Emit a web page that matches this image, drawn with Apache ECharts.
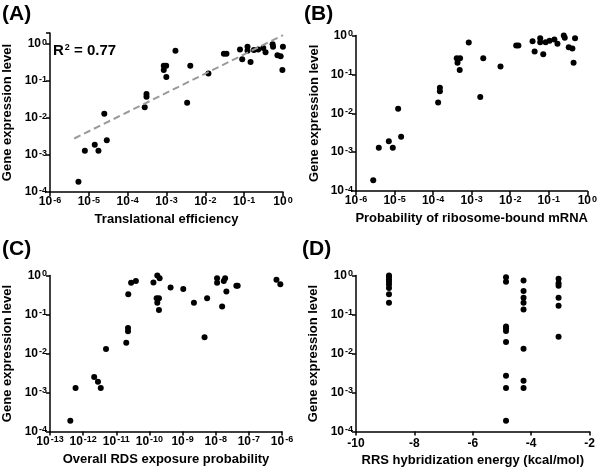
<!DOCTYPE html>
<html><head><meta charset="utf-8">
<script src="https://cdn.jsdelivr.net/npm/echarts@6/dist/echarts.min.js"></script>
<style>html,body{margin:0;padding:0;background:#fff}#c{width:600px;height:469px}</style>
</head><body><div id="c"></div>
<script>
// ---- Panel A: translational efficiency ----
const teX = [5.4e-6, 7.9e-6, 1.42e-5, 1.77e-5, 2.5e-5, 2.9e-5, 2.75e-4, 3.05e-4, 3.05e-4, 8.5e-4, 8.5e-4, 9.8e-4, 9.9e-4, 1.7e-3, 3.4e-3, 4.1e-3, 0.012, 0.030, 0.035, 0.078, 0.089, 0.122, 0.122, 0.146, 0.178, 0.23, 0.31, 0.355, 0.54, 0.555, 0.72, 0.87, 0.965, 0.995];
const teY = [1.9e-4, 1.3e-3, 1.9e-3, 1.3e-3, 0.013, 2.5e-3, 0.0195, 0.045, 0.038, 0.26, 0.2, 0.26, 0.13, 0.66, 0.026, 0.26, 0.16, 0.55, 0.55, 0.72, 0.39, 0.85, 0.66, 0.33, 0.69, 0.72, 0.79, 0.6, 1.0, 0.85, 0.5, 0.47, 0.2, 0.85];
const fitX = [4.2e-6, 1];
const fitY = [2.8e-3, 1.75];
const rSquared = '0.77';

// ---- Panel B: probability of ribosome-bound mRNA ----
const rbX = [2.8e-6, 3.9e-6, 7.1e-6, 9.0e-6, 1.24e-5, 1.48e-5, 1.35e-4, 1.5e-4, 1.5e-4, 4.1e-4, 4.3e-4, 5.0e-4, 4.9e-4, 8.4e-4, 1.67e-3, 2.0e-3, 5.6e-3, 0.0143, 0.0163, 0.038, 0.043, 0.06, 0.06, 0.072, 0.083, 0.105, 0.14, 0.168, 0.245, 0.26, 0.33, 0.41, 0.44, 0.48];
const rbY = [1.9e-4, 1.3e-3, 1.9e-3, 1.3e-3, 0.013, 2.5e-3, 0.019, 0.045, 0.037, 0.26, 0.2, 0.26, 0.13, 0.66, 0.026, 0.26, 0.16, 0.55, 0.55, 0.71, 0.39, 0.85, 0.67, 0.33, 0.67, 0.73, 0.79, 0.61, 1.0, 0.88, 0.5, 0.46, 0.2, 0.85];

// ---- Panel C: overall RDS exposure probability ----
const rdsX = [4.1e-13, 5.9e-13, 2.15e-12, 2.8e-12, 3.4e-12, 4.9e-12, 2.0e-11, 2.26e-11, 2.26e-11, 2.3e-11, 2.8e-11, 3.9e-11, 1.32e-10, 1.73e-10, 2.03e-10, 1.65e-10, 1.94e-10, 1.73e-10, 1.94e-10, 4.35e-10, 1.05e-9, 2.2e-9, 4.6e-9, 5.5e-9, 1.1e-8, 1.1e-8, 1.56e-8, 1.75e-8, 1.92e-8, 2.1e-8, 4.2e-8, 4.6e-8, 6.8e-7, 8.9e-7];
const rdsY = [1.9e-4, 1.3e-3, 2.5e-3, 1.9e-3, 1.3e-3, 0.013, 0.019, 0.045, 0.037, 0.33, 0.65, 0.72, 0.66, 1.0, 0.85, 0.26, 0.26, 0.2, 0.13, 0.49, 0.45, 0.2, 0.026, 0.26, 0.85, 0.65, 0.16, 0.72, 0.85, 0.39, 0.55, 0.55, 0.78, 0.6];

// ---- Panel D: RRS hybridization energy ----
const rrsX = [-8.87, -8.87, -8.87, -8.87, -8.87, -8.87, -8.87, -8.87,
              -4.86, -4.86, -4.86, -4.86, -4.86, -4.86, -4.86, -4.86, -4.86,
              -4.26, -4.26, -4.26, -4.26, -4.26, -4.26, -4.26, -4.26,
              -3.06, -3.06, -3.06, -3.06, -3.06, -3.06];
const rrsY = [1.0, 0.93, 0.8, 0.69, 0.59, 0.48, 0.33, 0.2,
              0.9, 0.69, 0.049, 0.044, 0.038, 0.0197, 0.0027, 0.0013, 0.00019,
              0.74, 0.4, 0.27, 0.2, 0.135, 0.0133, 0.002, 0.0013,
              0.82, 0.63, 0.55, 0.27, 0.168, 0.027];
const energyTicks = [-10, -8, -6, -4, -2];

const panelLabels = ['(A)', '(B)', '(C)', '(D)'];
const xNames = ['Translational efficiency', 'Probability of ribosome-bound mRNA', 'Overall RDS exposure probability', 'RRS hybridization energy (kcal/mol)'];
const yName = 'Gene expression level';

const F = '"Liberation Sans", Arial, sans-serif';
const pairs = (xs, ys) => xs.map((x, i) => [x, ys[i]]);
const supFmt = v => {
  const l = Math.log10(v), e = Math.round(l);
  if (Math.abs(l - e) > 1e-6) return '';
  return '{b|10}{s|' + e + '}';
};
const rich = {
  b: { fontSize: 12, fontWeight: 'bold', fontFamily: F, color: '#000' },
  s: { fontSize: 9, fontWeight: 'bold', fontFamily: F, color: '#000', verticalAlign: 'top', padding: [0, 0, 0, 1] }
};
const lineSt = { show: true, lineStyle: { color: '#000', width: 1.5 } };
const tickSt = { show: true, inside: false, length: 4, lineStyle: { color: '#000', width: 1.5 } };
const nameSt = { fontSize: 13, fontWeight: 'bold', fontFamily: F, color: '#000' };

function logAxis(gi, min, max, name, gap, margin) {
  return {
    type: 'log', logBase: 10, gridIndex: gi, min, max,
    axisLine: lineSt, axisTick: tickSt, splitLine: { show: false },
    axisLabel: { formatter: supFmt, rich, margin },
    name, nameLocation: 'middle', nameGap: gap, nameTextStyle: nameSt
  };
}
const grids = [
  { left: 49, top: 33, width: 234, height: 159 },
  { left: 356, top: 35.5, width: 235, height: 155.5 },
  { left: 49, top: 275.5, width: 233, height: 156 },
  { left: 356, top: 275.5, width: 233.5, height: 156 }
];
const xAxes = [
  logAxis(0, 1e-6, 1, xNames[0], 21, 4),
  logAxis(1, 1e-6, 1, xNames[1], 21, 4),
  logAxis(2, 1e-13, 1e-6, xNames[2], 21, 4),
  { type: 'value', gridIndex: 3, min: energyTicks[0], max: energyTicks[energyTicks.length - 1], interval: 2,
    axisLine: lineSt, axisTick: tickSt, splitLine: { show: false },
    axisLabel: { fontSize: 12, fontWeight: 'bold', fontFamily: F, color: '#000', margin: 6 },
    name: xNames[3], nameLocation: 'middle', nameGap: 22, nameTextStyle: nameSt }
];
const yAxes = [
  logAxis(0, 1e-4, 2, yName, 36, 3),
  logAxis(1, 1e-4, 1, yName, 35, 3),
  logAxis(2, 1e-4, 1, yName, 36, 3),
  logAxis(3, 1e-4, 1, yName, 36, 3)
];
const dot = { symbol: 'circle', symbolSize: 6, itemStyle: { color: '#000', opacity: 1 }, silent: true };
const series = [
  Object.assign({ type: 'scatter', xAxisIndex: 0, yAxisIndex: 0, data: pairs(teX, teY), z: 2 }, dot),
  { type: 'line', xAxisIndex: 0, yAxisIndex: 0, data: pairs(fitX, fitY), symbol: 'none', z: 3, silent: true,
    lineStyle: { color: '#9a9a9a', width: 2, type: [7, 4] } },
  Object.assign({ type: 'scatter', xAxisIndex: 1, yAxisIndex: 1, data: pairs(rbX, rbY) }, dot),
  Object.assign({ type: 'scatter', xAxisIndex: 2, yAxisIndex: 2, data: pairs(rdsX, rdsY) }, dot),
  Object.assign({ type: 'scatter', xAxisIndex: 3, yAxisIndex: 3, data: pairs(rrsX, rrsY) }, dot)
];
const labelPos = [[2, 4], [304, 4], [2, 239], [302, 239]];
const titles = panelLabels.map((t, i) => ({
  text: t, left: labelPos[i][0], top: labelPos[i][1], padding: 0,
  textStyle: { fontSize: 21, fontWeight: 'bold', fontFamily: F, color: '#000' }
}));
titles.push({
  text: '{r|R}{s|2}{r| = ' + rSquared + '}', left: 53, top: 43, padding: 0,
  textStyle: { rich: {
    r: { fontSize: 15, fontWeight: 'bold', fontFamily: F, color: '#000' },
    s: { fontSize: 9, fontWeight: 'bold', fontFamily: F, color: '#000', verticalAlign: 'top', padding: [0, 0, 0, 1] }
  } }
});
const chart = echarts.init(document.getElementById('c'), null, { renderer: 'canvas' });
chart.setOption({
  animation: false, backgroundColor: '#fff',
  title: titles, grid: grids, xAxis: xAxes, yAxis: yAxes, series
});
</script></body></html>
